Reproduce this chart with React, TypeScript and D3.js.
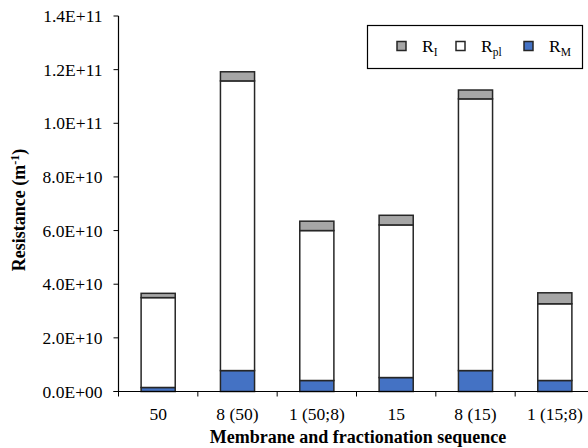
import React from "react";
import * as d3 from "d3";

const categories = ["50", "8 (50)", "1 (50;8)", "15", "8 (15)", "1 (15;8)"];
const rM = [0.15e10, 0.78e10, 0.41e10, 0.52e10, 0.78e10, 0.41e10];
const rPl = [3.35e10, 10.8e10, 5.59e10, 5.69e10, 10.13e10, 2.86e10];
const rI = [0.16e10, 0.34e10, 0.35e10, 0.36e10, 0.33e10, 0.41e10];
const yTicks = [0, 2e10, 4e10, 6e10, 8e10, 1e11, 1.2e11, 1.4e11];
const yTickLabels = ["0.0E+00", "2.0E+10", "4.0E+10", "6.0E+10", "8.0E+10", "1.0E+11", "1.2E+11", "1.4E+11"];
const seriesKeys = ["rM", "rPl", "rI"];
const seriesColors = ["#4472C4", "#FFFFFF", "#A6A6A6"];

const W = 588;
const H = 448;
const left = 118.5;
const right = 594.5;
const top = 16;
const bottom = 391.5;
const FONT = "Liberation Serif";
const STROKE = "#262626";

export default function App() {
  const x = d3.scaleBand<string>().domain(categories).range([left, right]).paddingInner(0.57).paddingOuter(0.285);
  const y = d3.scaleLinear().domain([0, 1.4e11]).range([bottom, top]);
  const rows = categories.map((c, i) => ({ cat: c, rM: rM[i], rPl: rPl[i], rI: rI[i] }));
  const stack = d3.stack<any>().keys(seriesKeys)(rows);
  const step = x.step();
  const boundaries = d3.range(categories.length + 1).map((i) => left + i * step);
  const ts = { fontFamily: FONT };

  return (
    <svg width={W} height={H} style={{ position: "absolute", left: 0, top: 0, background: "#fff", fontFamily: FONT }}>
      <rect x={0} y={0} width={W} height={H} fill="#fff" />
      {stack.map((s, si) => (
        <g key={s.key}>
          {s.map((d, i) => (
            <rect
              key={i}
              x={x(categories[i])}
              y={y(d[1])}
              width={x.bandwidth()}
              height={y(d[0]) - y(d[1])}
              fill={seriesColors[si]}
              stroke={STROKE}
              strokeWidth={1.5}
            />
          ))}
        </g>
      ))}
      <line x1={left} x2={left} y1={top} y2={bottom} stroke="#000" strokeWidth={1.2} />
      {yTicks.map((t, i) => (
        <g key={i}>
          <line x1={left - 5} x2={left} y1={y(t)} y2={y(t)} stroke="#000" strokeWidth={1} />
          <text style={ts} x={left - 16} y={y(t)} dy="0.35em" textAnchor="end" fontSize={17.5} fill="#000">
            {yTickLabels[i]}
          </text>
        </g>
      ))}
      <line x1={left - 5} x2={W} y1={bottom} y2={bottom} stroke="#000" strokeWidth={1.2} />
      {boundaries.map((b, i) => (
        <line key={i} x1={b} x2={b} y1={bottom} y2={bottom + 5} stroke="#000" strokeWidth={1} />
      ))}
      {categories.map((c) => (
        <text style={ts} key={c} x={(x(c) as number) + x.bandwidth() / 2} y={420} textAnchor="middle" fontSize={17.5} fill="#000">
          {c}
        </text>
      ))}
      <text style={ts} x={358} y={443} textAnchor="middle" fontSize={18} fontWeight="bold" fill="#000">
        Membrane and fractionation sequence
      </text>
      <text
        style={ts}
        transform={`translate(25, 210) rotate(-90)`}
        textAnchor="middle"
        fontSize={18}
        fontWeight="bold"
        fill="#000"
      >
        Resistance (m
        <tspan dy={-6} fontSize={12}>-1</tspan>
        <tspan dy={6}>)</tspan>
      </text>
      <rect x={367.5} y={25.5} width={215} height={43} fill="#fff" stroke="#000" strokeWidth={1.2} />
      {[
        { c: seriesColors[2], main: "R", sub: "I", mx: 397 },
        { c: seriesColors[1], main: "R", sub: "pl", mx: 456 },
        { c: seriesColors[0], main: "R", sub: "M", mx: 524 },
      ].map((l, i) => (
        <g key={i}>
          <rect x={l.mx} y={41.5} width={9} height={9} fill={l.c} stroke={STROKE} strokeWidth={1.5} />
          <text style={ts} x={l.mx + 25} y={52} fontSize={17.5} fill="#000">
            {l.main}
            <tspan dy={4} fontSize={11.5}>{l.sub}</tspan>
          </text>
        </g>
      ))}
    </svg>
  );
}
